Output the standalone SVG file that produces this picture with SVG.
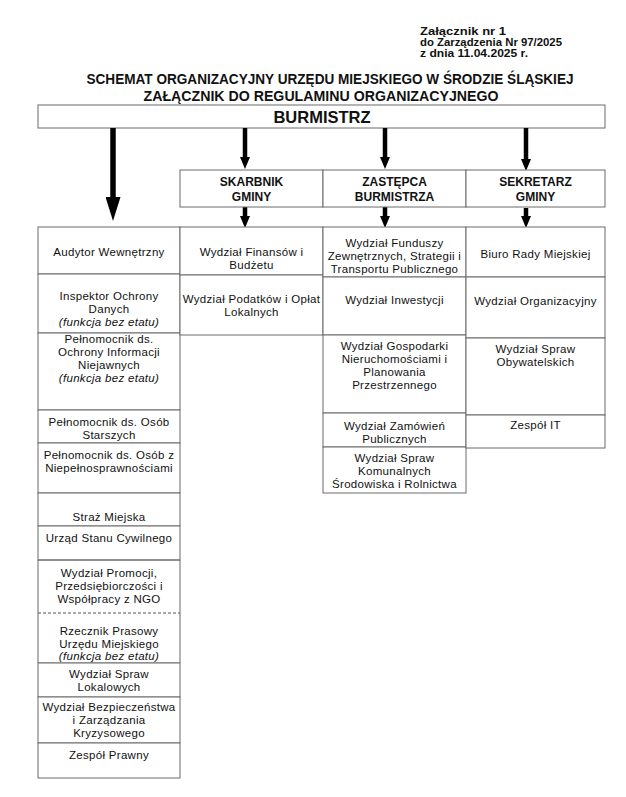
<svg xmlns="http://www.w3.org/2000/svg" width="626" height="797" viewBox="0 0 626 797">
<style>
  .bg { fill: #ffffff; }
  .box { fill: #ffffff; stroke: #6a6a6a; stroke-width: 1; }
  .edge { fill: none; stroke: #6a6a6a; stroke-width: 1; }
  .dash { fill: none; stroke: #555; stroke-width: 1; stroke-dasharray: 3 2; }
  .t { font-family: "Liberation Sans", Arial, sans-serif; font-size: 11.5px; letter-spacing: 0.3px; fill: #111; text-anchor: middle; }
  .i { font-style: italic; }
  .hb { font-family: "Liberation Sans", Arial, sans-serif; font-weight: bold; fill: #111; }
  .mid { font-family: "Liberation Sans", Arial, sans-serif; font-weight: bold; font-size: 12px; fill: #111; text-anchor: middle; }
  .big { stroke: #000; stroke-width: 5.5; fill: none; }
  .sm { stroke: #000; stroke-width: 4.5; fill: none; }
</style>
<defs>
  <marker id="bigHead" viewBox="0 0 24 15" refX="0" refY="7.5" markerWidth="24" markerHeight="15" markerUnits="userSpaceOnUse" orient="auto">
    <path d="M0,0 L24,7.5 L0,15 z" fill="#000"/>
  </marker>
  <marker id="smHead" viewBox="0 0 12 10" refX="0" refY="5" markerWidth="12" markerHeight="10" markerUnits="userSpaceOnUse" orient="auto">
    <path d="M0,0 L12,5 L0,10 z" fill="#000"/>
  </marker>
</defs>
<rect class="bg" x="0" y="0" width="626" height="797"/>

<g id="header">
  <text class="hb" font-size="10.5" x="420" y="35" textLength="86" lengthAdjust="spacingAndGlyphs">Załącznik nr 1</text>
  <text class="hb" font-size="10.5" x="420" y="46" textLength="142" lengthAdjust="spacingAndGlyphs">do Zarządzenia Nr 97/2025</text>
  <text class="hb" font-size="10.5" x="420" y="57" textLength="108" lengthAdjust="spacingAndGlyphs">z dnia 11.04.2025 r.</text>
</g>
<g id="title">
  <text class="hb" font-size="14" x="330" y="84" text-anchor="middle" textLength="487" lengthAdjust="spacingAndGlyphs">SCHEMAT ORGANIZACYJNY URZĘDU MIEJSKIEGO W ŚRODZIE ŚLĄSKIEJ</text>
  <text class="hb" font-size="14" x="321" y="101" text-anchor="middle" textLength="355" lengthAdjust="spacingAndGlyphs">ZAŁĄCZNIK DO REGULAMINU ORGANIZACYJNEGO</text>
</g>

<g id="burmistrz">
  <rect class="box" x="38" y="105" width="567" height="23"/>
  <text class="hb" font-size="16.5" x="322" y="123" text-anchor="middle">BURMISTRZ</text>
</g>

<g id="connectors">
  <line class="big" x1="113" y1="128" x2="113" y2="197" marker-end="url(#bigHead)"/>
  <line class="sm" x1="245" y1="128" x2="245" y2="157" marker-end="url(#smHead)"/>
  <line class="sm" x1="385" y1="128" x2="385" y2="157" marker-end="url(#smHead)"/>
  <line class="sm" x1="526" y1="128" x2="526" y2="159" marker-end="url(#smHead)"/>
  <line class="sm" x1="245" y1="207" x2="245" y2="216" marker-end="url(#smHead)"/>
  <line class="sm" x1="385" y1="207" x2="385" y2="216" marker-end="url(#smHead)"/>
  <line class="sm" x1="526" y1="208" x2="526" y2="216" marker-end="url(#smHead)"/>
</g>

<g id="skarbnik">
  <rect class="box" x="180" y="170" width="143" height="37"/>
  <text class="mid" x="251.5" y="186">SKARBNIK</text>
  <text class="mid" x="251.5" y="201">GMINY</text>
</g>
<g id="zastepca">
  <rect class="box" x="323" y="170" width="143" height="37"/>
  <text class="mid" x="394.5" y="186">ZASTĘPCA</text>
  <text class="mid" x="394.5" y="201">BURMISTRZA</text>
</g>
<g id="sekretarz">
  <rect class="box" x="466" y="170" width="139" height="37"/>
  <text class="mid" x="535.5" y="186">SEKRETARZ</text>
  <text class="mid" x="535.5" y="201">GMINY</text>
</g>

<!-- Left column -->
<g id="audytor">
  <rect class="box" x="38" y="227" width="142" height="47"/>
  <text class="t" x="109" y="256">Audytor Wewnętrzny</text>
</g>
<g id="inspektor">
  <rect class="box" x="38" y="274" width="142" height="59"/>
  <text class="t" x="109" y="299.5">Inspektor Ochrony</text>
  <text class="t" x="109" y="312.5">Danych</text>
  <text class="t i" x="109" y="325.5">(funkcja bez etatu)</text>
</g>
<g id="pelnomocnik-oin">
  <rect class="box" x="38" y="333" width="142" height="77"/>
  <text class="t" x="109" y="342.5">Pełnomocnik ds.</text>
  <text class="t" x="109" y="355.5">Ochrony Informacji</text>
  <text class="t" x="109" y="368.5">Niejawnych</text>
  <text class="t i" x="109" y="381.5">(funkcja bez etatu)</text>
</g>
<g id="pelnomocnik-starsi">
  <rect class="box" x="38" y="410" width="142" height="33"/>
  <text class="t" x="109" y="425.5">Pełnomocnik ds. Osób</text>
  <text class="t" x="109" y="438.5">Starszych</text>
</g>
<g id="pelnomocnik-niepeln">
  <rect class="box" x="38" y="443" width="142" height="50"/>
  <text class="t" x="109" y="459">Pełnomocnik ds. Osób z</text>
  <text class="t" x="109" y="472">Niepełnosprawnościami</text>
</g>
<g id="straz">
  <rect class="box" x="38" y="493" width="142" height="33"/>
  <text class="t" x="109" y="521">Straż Miejska</text>
</g>
<g id="usc">
  <rect class="box" x="38" y="526" width="142" height="34"/>
  <text class="t" x="109" y="542">Urząd Stanu Cywilnego</text>
</g>
<g id="promocja">
  <path class="edge" d="M38,613 L38,560 L180,560 L180,613"/>
  <text class="t" x="109" y="576.5">Wydział Promocji,</text>
  <text class="t" x="109" y="589.5">Przedsiębiorczości i</text>
  <text class="t" x="109" y="602.5">Współpracy z NGO</text>
</g>
<g id="rzecznik">
  <path class="edge" d="M38,613 L38,663 L180,663 L180,613"/>
  <line class="dash" x1="38" y1="613" x2="180" y2="613"/>
  <text class="t" x="109" y="634.5">Rzecznik Prasowy</text>
  <text class="t" x="109" y="647.5">Urzędu Miejskiego</text>
  <text class="t i" x="109" y="660">(funkcja bez etatu)</text>
</g>
<g id="lokalowe">
  <rect class="box" x="38" y="663" width="142" height="34"/>
  <text class="t" x="109" y="677.5">Wydział Spraw</text>
  <text class="t" x="109" y="690.5">Lokalowych</text>
</g>
<g id="bezpieczenstwo">
  <rect class="box" x="38" y="697" width="142" height="46"/>
  <text class="t" x="109" y="710.5">Wydział Bezpieczeństwa</text>
  <text class="t" x="109" y="723.5">i Zarządzania</text>
  <text class="t" x="109" y="736.5">Kryzysowego</text>
</g>
<g id="prawny">
  <rect class="box" x="38" y="743" width="142" height="35"/>
  <text class="t" x="109" y="759">Zespół Prawny</text>
</g>

<!-- Column 2 -->
<g id="finanse">
  <rect class="box" x="180" y="227" width="143" height="48"/>
  <text class="t" x="251.5" y="255.5">Wydział Finansów i</text>
  <text class="t" x="251.5" y="268.5">Budżetu</text>
</g>
<g id="podatki">
  <rect class="box" x="180" y="275" width="143" height="60"/>
  <text class="t" x="251.5" y="303">Wydział Podatków i Opłat</text>
  <text class="t" x="251.5" y="316">Lokalnych</text>
</g>

<!-- Column 3 -->
<g id="fundusze">
  <rect class="box" x="323" y="227" width="143" height="50"/>
  <text class="t" x="394.5" y="246.5">Wydział Funduszy</text>
  <text class="t" x="394.5" y="259.5">Zewnętrznych, Strategii i</text>
  <text class="t" x="394.5" y="272.5">Transportu Publicznego</text>
</g>
<g id="inwestycje">
  <rect class="box" x="323" y="277" width="143" height="58"/>
  <text class="t" x="394.5" y="304">Wydział Inwestycji</text>
</g>
<g id="gospodarka">
  <rect class="box" x="323" y="335" width="143" height="78"/>
  <text class="t" x="394.5" y="350">Wydział Gospodarki</text>
  <text class="t" x="394.5" y="363">Nieruchomościami i</text>
  <text class="t" x="394.5" y="376">Planowania</text>
  <text class="t" x="394.5" y="389">Przestrzennego</text>
</g>
<g id="zamowienia">
  <rect class="box" x="323" y="413" width="143" height="34"/>
  <text class="t" x="394.5" y="429.5">Wydział Zamówień</text>
  <text class="t" x="394.5" y="442.5">Publicznych</text>
</g>
<g id="komunalne">
  <rect class="box" x="323" y="447" width="143" height="46"/>
  <text class="t" x="394.5" y="462">Wydział Spraw</text>
  <text class="t" x="394.5" y="475">Komunalnych</text>
  <text class="t" x="394.5" y="488">Środowiska i Rolnictwa</text>
</g>

<!-- Column 4 -->
<g id="biuro-rady">
  <rect class="box" x="466" y="227" width="139" height="50"/>
  <text class="t" x="535.5" y="258">Biuro Rady Miejskiej</text>
</g>
<g id="organizacyjny">
  <rect class="box" x="466" y="277" width="139" height="61"/>
  <text class="t" x="535.5" y="305">Wydział Organizacyjny</text>
</g>
<g id="obywatelskie">
  <rect class="box" x="466" y="338" width="139" height="77"/>
  <text class="t" x="535.5" y="353">Wydział Spraw</text>
  <text class="t" x="535.5" y="366">Obywatelskich</text>
</g>
<g id="zespol-it">
  <rect class="box" x="466" y="415" width="139" height="33"/>
  <text class="t" x="535.5" y="429">Zespół IT</text>
</g>
</svg>
